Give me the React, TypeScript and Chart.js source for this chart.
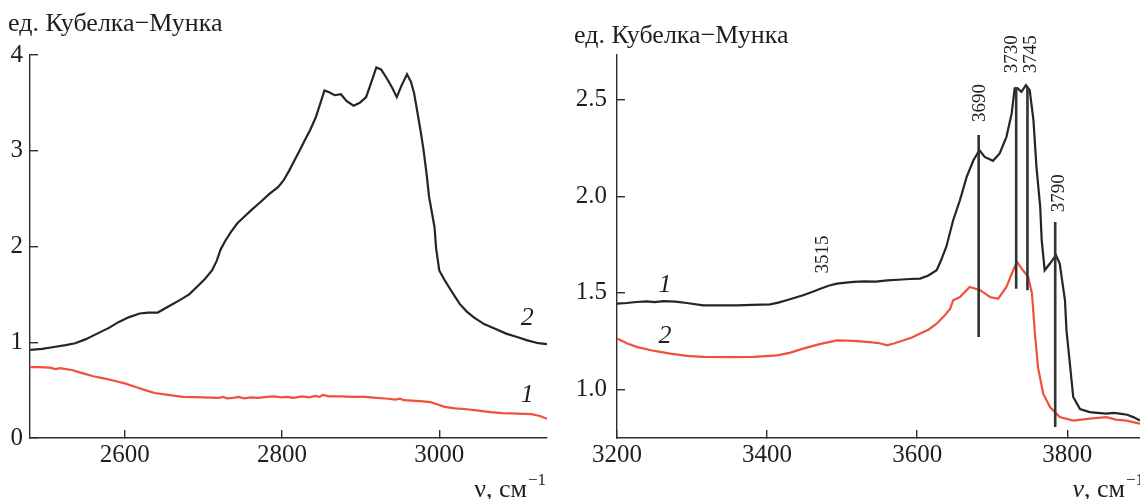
import React, { useEffect, useRef } from "react";
import { Chart, registerables } from "chart.js";

Chart.register(...registerables);

// ---------------- data: left panel (2480–3137 cm-1) ----------------
const leftXTicks = [2600, 2800, 3000];
const leftYTicks = [0, 1, 2, 3, 4];

const leftNu2 = [2480, 2495, 2510, 2525, 2537, 2550, 2565, 2580, 2592, 2605, 2619, 2630, 2642, 2655, 2670, 2682, 2692, 2702, 2711, 2717, 2722, 2728, 2735, 2743, 2752, 2761, 2772, 2784, 2795, 2802, 2809, 2816, 2823, 2829, 2836, 2843, 2849, 2854, 2860, 2867, 2875, 2882, 2891, 2899, 2907, 2913, 2920, 2926, 2933, 2940, 2946, 2952, 2959, 2964, 2968, 2971, 2976, 2980, 2984, 2987, 2991, 2994, 2996, 3000, 3006, 3012, 3019, 3026, 3035, 3044, 3057, 3071, 3085, 3099, 3112, 3126, 3137];
const leftKM2 = [0.92, 0.93, 0.95, 0.97, 0.99, 1.03, 1.09, 1.15, 1.21, 1.26, 1.3, 1.31, 1.31, 1.37, 1.44, 1.5, 1.58, 1.66, 1.75, 1.85, 1.97, 2.06, 2.15, 2.24, 2.31, 2.38, 2.46, 2.55, 2.62, 2.69, 2.79, 2.9, 3.01, 3.11, 3.22, 3.35, 3.5, 3.63, 3.61, 3.58, 3.59, 3.52, 3.47, 3.5, 3.56, 3.7, 3.87, 3.85, 3.76, 3.66, 3.56, 3.68, 3.8, 3.72, 3.6, 3.46, 3.22, 3.01, 2.75, 2.52, 2.34, 2.2, 1.98, 1.75, 1.66, 1.58, 1.49, 1.4, 1.32, 1.26, 1.19, 1.14, 1.09, 1.055, 1.02, 0.99, 0.98];

const leftNu1 = [2480, 2492, 2505, 2512, 2518, 2525, 2533, 2545, 2560, 2575, 2588, 2600, 2615, 2626, 2638, 2655, 2674, 2700, 2720, 2725, 2730, 2738, 2745, 2752, 2760, 2770, 2780, 2790, 2800, 2806, 2815, 2825, 2835, 2842, 2848, 2852, 2860, 2875, 2890, 2905, 2920, 2935, 2944, 2950, 2955, 2965, 2975, 2989, 2998, 3007, 3020, 3035, 3050, 3065, 3080, 3100, 3117, 3128, 3137];
const leftKM1 = [0.74, 0.74, 0.735, 0.72, 0.73, 0.72, 0.71, 0.68, 0.645, 0.62, 0.595, 0.57, 0.53, 0.5, 0.47, 0.45, 0.43, 0.425, 0.42, 0.43, 0.415, 0.42, 0.43, 0.415, 0.425, 0.42, 0.43, 0.435, 0.425, 0.43, 0.42, 0.435, 0.425, 0.44, 0.43, 0.45, 0.435, 0.435, 0.43, 0.43, 0.42, 0.41, 0.4, 0.41, 0.395, 0.39, 0.385, 0.375, 0.35, 0.325, 0.31, 0.3, 0.285, 0.27, 0.26, 0.255, 0.25, 0.23, 0.2];

// ---------------- data: right panel (3200–3897 cm-1) ----------------
const rightXTicks = [3200, 3400, 3600, 3800];
const rightYTicks = [1.0, 1.5, 2.0, 2.5];

const rightNu1 = [3200, 3213, 3226, 3240, 3250, 3262, 3278, 3293, 3315, 3340, 3360, 3380, 3404, 3415, 3426, 3437, 3448, 3460, 3471, 3482, 3493, 3505, 3515, 3530, 3545, 3560, 3575, 3590, 3604, 3615, 3626, 3632, 3639, 3648, 3657, 3666, 3675, 3683, 3690, 3701, 3710, 3719, 3726, 3730, 3734, 3739, 3745, 3750, 3755, 3759, 3764, 3766, 3770, 3777, 3785, 3790, 3797, 3799, 3804, 3808, 3817, 3830, 3840, 3852, 3862, 3870, 3880, 3888, 3897];
const rightKM1 = [1.445, 1.448, 1.453, 1.456, 1.452, 1.458, 1.455, 1.448, 1.436, 1.436, 1.436, 1.438, 1.441, 1.45, 1.462, 1.475, 1.488, 1.505, 1.522, 1.537, 1.548, 1.553, 1.557, 1.56, 1.558, 1.565, 1.568, 1.572, 1.574, 1.59, 1.617, 1.67, 1.74, 1.876, 1.979, 2.1, 2.186, 2.238, 2.203, 2.183, 2.221, 2.307, 2.428, 2.557, 2.557, 2.54, 2.574, 2.548, 2.393, 2.152, 1.945, 1.772, 1.617, 1.652, 1.695, 1.652, 1.462, 1.307, 1.117, 0.962, 0.9, 0.884, 0.88, 0.876, 0.88, 0.876, 0.87, 0.858, 0.84];

const rightNu2 = [3200, 3213, 3227, 3250, 3271, 3293, 3315, 3350, 3382, 3413, 3430, 3448, 3470, 3493, 3515, 3537, 3550, 3560, 3570, 3582, 3593, 3604, 3615, 3626, 3636, 3644, 3648, 3657, 3670, 3684, 3697, 3708, 3719, 3728, 3733, 3741, 3748, 3753, 3757, 3761, 3768, 3777, 3790, 3808, 3830, 3852, 3865, 3879, 3897];
const rightKM2 = [1.264, 1.24, 1.22, 1.2, 1.186, 1.175, 1.169, 1.168, 1.169, 1.177, 1.19, 1.212, 1.235, 1.255, 1.252, 1.246, 1.24, 1.229, 1.24, 1.255, 1.27, 1.29, 1.31, 1.341, 1.38, 1.419, 1.462, 1.479, 1.531, 1.514, 1.479, 1.47, 1.531, 1.617, 1.66, 1.617, 1.583, 1.497, 1.29, 1.117, 0.979, 0.91, 0.858, 0.84, 0.85, 0.858, 0.845, 0.84, 0.824];

// band markers (label text, marker line position and extent in data units)
const bandLabels = ["3690", "3730", "3745", "3790"];
const bandLineNu = [3682, 3732, 3747, 3784];
const bandLineLow = [1.272, 1.522, 1.514, 0.807];
const bandLineHigh = [2.316, 2.565, 2.565, 1.867];
const bandLabelNu = [3682, 3725, 3751, 3788];
const bandLabelKM = [2.383, 2.636, 2.636, 1.917];
const freeLabel = "3515";
const freeLabelNu = 3473;
const freeLabelKM = 1.6;

// curve number labels
const leftCurveLabels = ["2", "1"];
const leftCurveLabelNu = [3112, 3112];
const leftCurveLabelKM = [1.248, 0.446];
const rightCurveLabels = ["1", "2"];
const rightCurveLabelNu = [3264, 3264];
const rightCurveLabelKM = [1.54, 1.278];

const yTitle = "ед. Кубелка−Мунка";

// ---------------- styling ----------------
const SERIF = '"Liberation Serif", "Times New Roman", Times, serif';
const AXIS = "#2e2e2e";
const TEXT = "#1e1e1e";
const BLACK = "#252525";
const RED = "#f0503c";
const TICK_SIZE = 25;

const pts = (xs: number[], ys: number[]) => xs.map((x, i) => ({ x, y: ys[i] }));

function drawXTitle(ctx: CanvasRenderingContext2D, rightX: number, baseline: number, italicNu: boolean) {
  ctx.save();
  ctx.fillStyle = TEXT;
  ctx.textBaseline = "alphabetic";
  ctx.textAlign = "left";
  const nuFont = `${italicNu ? "italic " : ""}26px ${SERIF}`;
  const mainFont = `26px ${SERIF}`;
  const supFont = `17px ${SERIF}`;
  ctx.font = nuFont;
  const nuW = ctx.measureText("ν").width;
  ctx.font = mainFont;
  const mainW = ctx.measureText(", см").width;
  ctx.font = supFont;
  const supW = ctx.measureText("−1").width;
  const x0 = rightX - supW - mainW - nuW - 1;
  ctx.font = nuFont;
  ctx.fillText("ν", x0, baseline);
  ctx.font = mainFont;
  ctx.fillText(", см", x0 + nuW, baseline);
  ctx.font = supFont;
  ctx.fillText("−1", x0 + nuW + mainW + 1, baseline - 12);
  ctx.restore();
}

type PanelText = {
  titleX: number;
  titleY: number;
  xTitleRight: number;
  italicNu: boolean;
  curveLabels: string[];
  curveNu: number[];
  curveKM: number[];
  rotated?: { text: string; nu: number; km: number }[];
};

function textPlugin(cfg: PanelText) {
  return {
    id: "panelText",
    afterDraw(chart: any) {
      const ctx: CanvasRenderingContext2D = chart.ctx;
      const xs = chart.scales.x;
      const ys = chart.scales.y;
      ctx.save();
      ctx.fillStyle = TEXT;
      ctx.font = `26px ${SERIF}`;
      ctx.textAlign = "left";
      ctx.textBaseline = "alphabetic";
      ctx.fillText(yTitle, cfg.titleX, cfg.titleY);

      ctx.font = `italic 26px ${SERIF}`;
      ctx.textAlign = "center";
      ctx.textBaseline = "middle";
      cfg.curveLabels.forEach((t, i) => {
        ctx.fillText(t, xs.getPixelForValue(cfg.curveNu[i]), ys.getPixelForValue(cfg.curveKM[i]));
      });

      if (cfg.rotated) {
        ctx.font = `19px ${SERIF}`;
        ctx.textAlign = "left";
        ctx.textBaseline = "middle";
        cfg.rotated.forEach((r) => {
          ctx.save();
          ctx.translate(xs.getPixelForValue(r.nu), ys.getPixelForValue(r.km));
          ctx.rotate(-Math.PI / 2);
          ctx.fillText(r.text, 0, 1);
          ctx.restore();
        });
      }
      ctx.restore();
      drawXTitle(ctx, cfg.xTitleRight, 497, cfg.italicNu);
    },
  };
}

function axisOpts(min: number, max: number, tickValues: number[], fit: (s: any) => void, pad: number, fmt?: (v: number) => string) {
  return {
    type: "linear" as const,
    min,
    max,
    afterBuildTicks: (s: any) => {
      s.ticks = tickValues.map((v) => ({ value: v }));
    },
    afterFit: fit,
    grid: {
      drawOnChartArea: false,
      drawTicks: true,
      tickLength: -8,
      tickColor: AXIS,
      tickWidth: 1.4,
      color: AXIS,
      lineWidth: 1.4,
    },
    border: { display: true, color: AXIS, width: 1.4 },
    ticks: {
      font: { family: SERIF, size: TICK_SIZE },
      color: TEXT,
      padding: pad,
      maxRotation: 0,
      autoSkip: false,
      callback: (v: any) => (fmt ? fmt(Number(v)) : String(v)),
    },
  };
}

function LeftPanel() {
  const ref = useRef<HTMLCanvasElement | null>(null);
  useEffect(() => {
    if (!ref.current) return;
    const chart = new Chart(ref.current, {
      type: "line",
      data: {
        datasets: [
          { data: pts(leftNu2, leftKM2), borderColor: BLACK, borderWidth: 2.2, pointRadius: 0, tension: 0 },
          { data: pts(leftNu1, leftKM1), borderColor: RED, borderWidth: 2.2, pointRadius: 0, tension: 0 },
        ],
      },
      options: {
        responsive: false,
        animation: false,
        events: [],
        layout: { padding: { left: 0, right: 13, top: 55, bottom: 0 } },
        plugins: { legend: { display: false }, tooltip: { enabled: false }, title: { display: false } },
        scales: {
          x: axisOpts(2479.6, 3137, leftXTicks, (s: any) => { s.height = 61; }, 10),
          y: axisOpts(0, 4, leftYTicks, (s: any) => { s.width = 30; }, 15),
        },
      },
      plugins: [
        textPlugin({
          titleX: 8,
          titleY: 31,
          xTitleRight: 546,
          italicNu: false,
          curveLabels: leftCurveLabels,
          curveNu: leftCurveLabelNu,
          curveKM: leftCurveLabelKM,
        }),
      ],
    } as any);
    return () => chart.destroy();
  }, []);
  return <canvas ref={ref} width={560} height={499} style={{ position: "absolute", left: 0, top: 0, width: 560, height: 499 }} />;
}

function RightPanel() {
  const ref = useRef<HTMLCanvasElement | null>(null);
  useEffect(() => {
    if (!ref.current) return;
    const markerPts: { x: number; y: number | null }[] = [];
    bandLineNu.forEach((nu, i) => {
      markerPts.push({ x: nu, y: bandLineLow[i] }, { x: nu, y: bandLineHigh[i] }, { x: nu, y: null });
    });
    const rotated = bandLabels.map((t, i) => ({ text: t, nu: bandLabelNu[i], km: bandLabelKM[i] }));
    rotated.push({ text: freeLabel, nu: freeLabelNu, km: freeLabelKM });
    const chart = new Chart(ref.current, {
      type: "line",
      data: {
        datasets: [
          { data: markerPts, borderColor: "#333333", borderWidth: 2.6, pointRadius: 0, spanGaps: false, tension: 0 },
          { data: pts(rightNu1, rightKM1), borderColor: BLACK, borderWidth: 2.2, pointRadius: 0, tension: 0 },
          { data: pts(rightNu2, rightKM2), borderColor: RED, borderWidth: 2.2, pointRadius: 0, tension: 0 },
        ],
      },
      options: {
        responsive: false,
        animation: false,
        events: [],
        layout: { padding: { left: 0, right: 0, top: 55, bottom: 0 } },
        plugins: { legend: { display: false }, tooltip: { enabled: false }, title: { display: false } },
        scales: {
          x: axisOpts(3200, 3897, rightXTicks, (s: any) => { s.height = 61; }, 10),
          y: axisOpts(0.75, 2.73, rightYTicks, (s: any) => { s.width = 57; }, 18, (v) => v.toFixed(1)),
        },
      },
      plugins: [
        textPlugin({
          titleX: 14,
          titleY: 43,
          xTitleRight: 584,
          italicNu: true,
          curveLabels: rightCurveLabels,
          curveNu: rightCurveLabelNu,
          curveKM: rightCurveLabelKM,
          rotated,
        }),
      ],
    } as any);
    return () => chart.destroy();
  }, []);
  return <canvas ref={ref} width={580} height={499} style={{ position: "absolute", left: 560, top: 0, width: 580, height: 499 }} />;
}

export default function App() {
  return (
    <div style={{ position: "absolute", left: 0, top: 0, width: 1140, height: 499, background: "#ffffff", overflow: "hidden" }}>
      <LeftPanel />
      <RightPanel />
    </div>
  );
}
